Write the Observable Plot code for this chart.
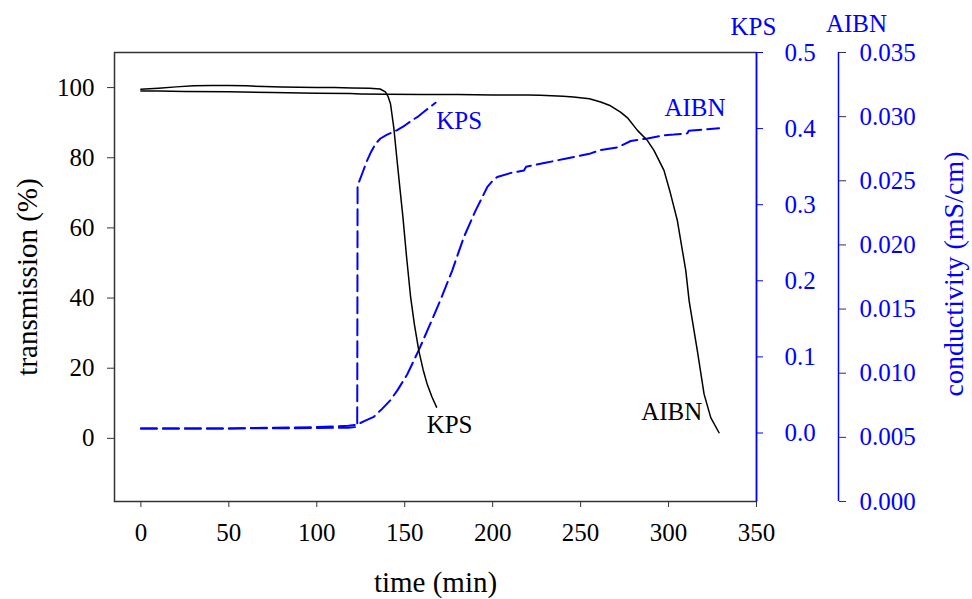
<!DOCTYPE html>
<html><head><meta charset="utf-8">
<script src="https://cdn.jsdelivr.net/npm/d3@7"></script>
<script src="https://cdn.jsdelivr.net/npm/@observablehq/plot@0.6"></script>
<style>
body{margin:0;background:#fff}
svg{display:block}
svg, svg text, svg g { font-family: "Liberation Serif", "Times New Roman", serif !important; }
</style>
</head><body><div id="chart"></div>
<script>
// ---- data ----
const timeTicks = [0, 50, 100, 150, 200, 250, 300, 350];
const transTicks = [0, 20, 40, 60, 80, 100];
const kpsCondTicks = [0, 0.1, 0.2, 0.3, 0.4, 0.5];
const aibnCondTicks = [0, 0.005, 0.010, 0.015, 0.020, 0.025, 0.030, 0.035];

// transmission (%) vs time (min)
const kpsTransT = [0, 10, 20, 30, 40, 50, 60, 70, 80, 90, 100, 110, 120, 130, 136, 139, 140.5, 141.9, 143.8, 145.5, 147.2, 149, 151, 153.3, 155.5, 158, 160.5, 162.8, 165.5, 168.1];
const kpsTransV = [99.5, 99.8, 100.2, 100.5, 100.6, 100.6, 100.5, 100.3, 100.2, 100.1, 100.0, 100.0, 99.9, 99.8, 99.6, 98.8, 97.5, 95.4, 88.5, 80, 71.6, 63, 52, 40.5, 32.5, 25, 19.5, 15.4, 11.8, 8.9];
const aibnTransT = [0, 10, 25, 50, 75, 100, 119, 125, 140, 160, 180, 200, 220, 227, 240, 246, 255, 261.4, 267, 272.7, 277, 282.3, 288, 291.7, 297.4, 301, 305, 309.8, 311.7, 316.4, 320.2, 324, 328.7];
const aibnTransV = [99.0, 99.0, 98.9, 98.8, 98.6, 98.4, 98.3, 98.2, 98.1, 98.0, 98.0, 97.9, 97.9, 97.8, 97.5, 97.3, 96.8, 95.9, 94.8, 93.0, 91.2, 87.8, 84.9, 82.1, 76.4, 70, 62.1, 47.8, 39.2, 24.9, 12.6, 5.9, 1.6];

// conductivity (mS/cm) vs time (min)
const kpsCondT = [0, 50, 100, 118, 123, 123.2, 126, 128.6, 131, 133.4, 136.2, 140, 145.7, 150, 154.2, 157.1, 162, 167.5];
const kpsCondV = [0.006, 0.006, 0.0065, 0.007, 0.008, 0.325, 0.342, 0.358, 0.370, 0.380, 0.387, 0.392, 0.398, 0.404, 0.411, 0.415, 0.424, 0.434];
const aibnCondT = [0, 50, 100, 118, 123, 127.6, 132.4, 137, 141.9, 146, 151.4, 158, 164.7, 170.3, 177, 183.6, 190, 196.9, 200, 202.6, 210, 217.8, 219, 230, 240.5, 255, 261.4, 270.9, 278.5, 288, 297.4, 303.1, 310.7, 311.5, 320, 328.7];
const aibnCondV = [0.0057, 0.0057, 0.0058, 0.0059, 0.0060, 0.0063, 0.0066, 0.0072, 0.0079, 0.0087, 0.0099, 0.0118, 0.0139, 0.0157, 0.0180, 0.0206, 0.0226, 0.0245, 0.0250, 0.0253, 0.0256, 0.0258, 0.0261, 0.0264, 0.0267, 0.0271, 0.0274, 0.0276, 0.0281, 0.0283, 0.02855, 0.0286, 0.0287, 0.0289, 0.0290, 0.0291];

// curve labels (time, transmission-axis units)
const curveLabels = [
  {t: 181, v: 90.5, text: "KPS", color: "#0000ff"},
  {t: 315, v: 94.2, text: "AIBN", color: "#0000ff"},
  {t: 175.5, v: 3.8, text: "KPS", color: "#000000"},
  {t: 301.8, v: 7.5, text: "AIBN", color: "#000000"}
];

// ---- scales ----
const xDomain = [-15, 350];
const yDomain = [-18, 110];
const kpsDomain = [-0.09, 0.5];
const aibnDomain = [0, 0.035];
const kpsToY = d3.scaleLinear(kpsDomain, yDomain);
const aibnToY = d3.scaleLinear(aibnDomain, yDomain);

const zip = (T, V) => T.map((t, i) => ({t, v: V[i]}));
const kpsTrans = zip(kpsTransT, kpsTransV);
const aibnTrans = zip(aibnTransT, aibnTransV);
const kpsCond = zip(kpsCondT, kpsCondV);
const aibnCond = zip(aibnCondT, aibnCondV);

const BLUE = "#0000ff";
const dash = "16,6";

const chart = Plot.plot({
  width: 972,
  height: 599,
  marginLeft: 114,
  marginRight: 216,
  marginTop: 52,
  marginBottom: 98,
  style: {fontFamily: "Liberation Serif", fontSize: "25px", background: "#fff", color: "#000"},
  x: {domain: xDomain},
  y: {domain: yDomain},
  marks: [
    Plot.frame({stroke: "#333", strokeWidth: 1.5}),
    Plot.ruleX([xDomain[1]], {stroke: BLUE, strokeWidth: 1.5}),
    Plot.ruleX([xDomain[1]], {stroke: BLUE, strokeWidth: 1.5, dx: 82}),
    Plot.axisX(timeTicks, {tickSize: 6, tickPadding: 16, label: null, stroke: "#333", fill: "#000", fontSize: 25}),
    Plot.axisY(transTicks, {anchor: "left", tickSize: 7, tickPadding: 13, label: null, stroke: "#333", fill: "#000", fontSize: 25}),
    Plot.axisY(kpsCondTicks.map(d => kpsToY(d)), {
      anchor: "right", tickSize: 6, tickPadding: 22, label: null, stroke: BLUE, fill: BLUE, fontSize: 25,
      tickFormat: y => d3.format(".1f")(Math.round(kpsToY.invert(y) * 1000) / 1000)
    }),
    Plot.axisY(aibnCondTicks.map(d => aibnToY(d)), {
      anchor: "right", dx: 82, tickSize: 7, tickPadding: 14, label: null, stroke: "#333", fill: BLUE, fontSize: 25,
      tickFormat: y => d3.format(".3f")(Math.round(aibnToY.invert(y) * 100000) / 100000)
    }),
    Plot.line(kpsCond, {x: "t", y: d => kpsToY(d.v), stroke: BLUE, strokeWidth: 2, strokeDasharray: dash}),
    Plot.line(aibnCond, {x: "t", y: d => aibnToY(d.v), stroke: BLUE, strokeWidth: 2, strokeDasharray: dash}),
    Plot.line(kpsTrans, {x: "t", y: "v", stroke: "#000", strokeWidth: 1.5}),
    Plot.line(aibnTrans, {x: "t", y: "v", stroke: "#000", strokeWidth: 1.5}),
    Plot.text(curveLabels, {x: "t", y: "v", text: "text", fill: "color", fontSize: 25}),
    Plot.text(["transmission (%)"], {frameAnchor: "left", dx: -87, rotate: -90, textAnchor: "middle", lineAnchor: "middle", fontSize: 29, fill: "#000"}),
    Plot.text(["time (min)"], {frameAnchor: "bottom", dy: 81, textAnchor: "middle", lineAnchor: "middle", fontSize: 29, fill: "#000"}),
    Plot.text(["conductivity (mS/cm)"], {frameAnchor: "right", dx: 198, dy: -3, rotate: -90, textAnchor: "middle", lineAnchor: "middle", fontSize: 28, fill: BLUE}),
    Plot.text(["KPS"], {frameAnchor: "top-right", dx: -3, dy: -26, textAnchor: "middle", lineAnchor: "middle", fontSize: 25, fill: BLUE}),
    Plot.text(["AIBN"], {frameAnchor: "top-right", dx: 100, dy: -29, textAnchor: "middle", lineAnchor: "middle", fontSize: 25, fill: BLUE})
  ]
});
document.getElementById("chart").appendChild(chart);
</script>
</body></html>
